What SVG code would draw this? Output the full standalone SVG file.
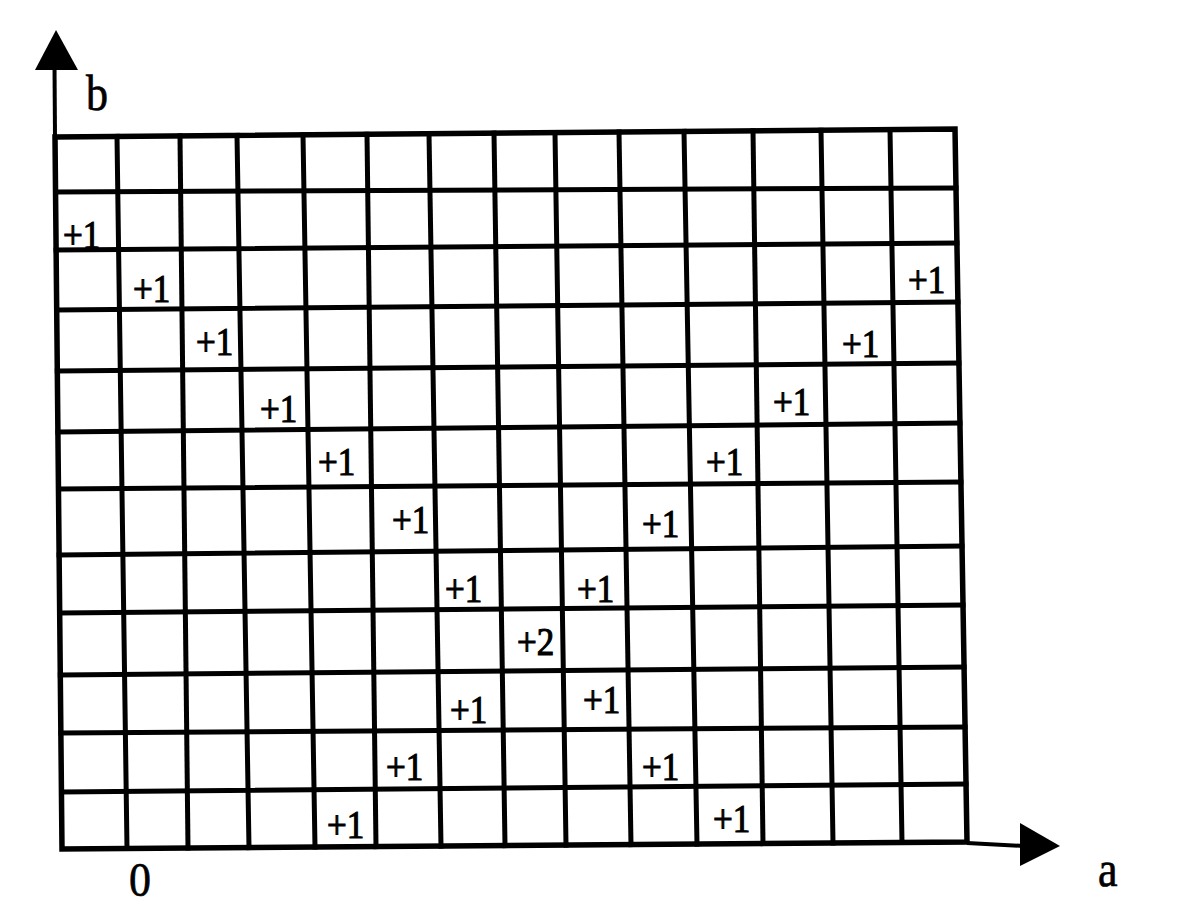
<svg xmlns="http://www.w3.org/2000/svg" width="1182" height="907" viewBox="0 0 1182 907">
<style>
.g{stroke:#000;stroke-width:5;stroke-linecap:square;fill:none}
.b{stroke:#000;stroke-width:5.5;stroke-linecap:square;fill:none}
.ax{stroke:#000;stroke-width:4;fill:none}
.ah{fill:#000}
.v{font-family:"Liberation Serif","Times New Roman",serif;font-size:35px;fill:#000;stroke:#000;stroke-width:1}
.lb{font-family:"Liberation Serif","Times New Roman",serif;fill:#000;stroke:#000;stroke-width:0.6}
</style>
<rect width="1182" height="907" fill="#fff"/>
<g id="grid">
<g id="rows">
<line class="g" x1="55.5" y1="192" x2="956" y2="188"/>
<line class="g" x1="56.1" y1="250" x2="956.9" y2="243"/>
<line class="g" x1="56.7" y1="310" x2="957.9" y2="302"/>
<line class="g" x1="57.3" y1="371" x2="958.9" y2="363"/>
<line class="g" x1="57.9" y1="432" x2="959.9" y2="423"/>
<line class="g" x1="58.5" y1="489" x2="960.9" y2="482"/>
<line class="g" x1="59.1" y1="555" x2="962" y2="546"/>
<line class="g" x1="59.7" y1="613" x2="963" y2="605"/>
<line class="g" x1="60.3" y1="675" x2="964" y2="667"/>
<line class="g" x1="60.9" y1="733" x2="965" y2="727"/>
<line class="g" x1="61.5" y1="792" x2="966" y2="784"/>
</g>
<g id="cols">
<line class="g" x1="117" y1="136.4" x2="127" y2="848.5"/>
<line class="g" x1="180" y1="135.9" x2="188" y2="848"/>
<line class="g" x1="237" y1="135.4" x2="249" y2="847.6"/>
<line class="g" x1="303" y1="134.8" x2="315" y2="847"/>
<line class="g" x1="367" y1="134.2" x2="376" y2="846.6"/>
<line class="g" x1="429" y1="133.7" x2="441" y2="846.1"/>
<line class="g" x1="494" y1="133.1" x2="505" y2="845.6"/>
<line class="g" x1="555" y1="132.6" x2="566" y2="845.1"/>
<line class="g" x1="619" y1="132" x2="631" y2="844.6"/>
<line class="g" x1="684" y1="131.4" x2="697" y2="844.1"/>
<line class="g" x1="753" y1="130.8" x2="763" y2="843.6"/>
<line class="g" x1="821" y1="130.2" x2="833" y2="843"/>
<line class="g" x1="890" y1="129.6" x2="902" y2="842.5"/>
</g>
<polygon id="border" class="b" points="55,137 955,129 967,842 62,849"/>
</g>
<g id="axes">
<line class="ax" x1="54.5" y1="66" x2="55" y2="137"/>
<polygon class="ah" points="56,30 35,70 78,70"/>
<line class="ax" x1="967" y1="843" x2="1024" y2="846"/>
<polygon class="ah" points="1060,846 1020,823 1020,866"/>
</g>
<g id="axis-labels">
<text class="lb" transform="translate(86,110) scale(1,1.15)" font-size="44">b</text>
<text class="lb" transform="translate(1098,886) scale(1,1.15)" font-size="44">a</text>
<text class="lb" transform="translate(129,896) scale(1,1.12)" font-size="44">0</text>
</g>
<g id="values">
<text class="v" transform="translate(63,248) scale(1,1.15)">+1</text>
<text class="v" transform="translate(133,302) scale(1,1.15)">+1</text>
<text class="v" transform="translate(196,355) scale(1,1.15)">+1</text>
<text class="v" transform="translate(260,422) scale(1,1.15)">+1</text>
<text class="v" transform="translate(318,475) scale(1,1.15)">+1</text>
<text class="v" transform="translate(392,533) scale(1,1.15)">+1</text>
<text class="v" transform="translate(445,602) scale(1,1.15)">+1</text>
<text class="v" transform="translate(517,655) scale(1,1.15)">+2</text>
<text class="v" transform="translate(450,723) scale(1,1.15)">+1</text>
<text class="v" transform="translate(386,780) scale(1,1.15)">+1</text>
<text class="v" transform="translate(327,838) scale(1,1.15)">+1</text>
<text class="v" transform="translate(577,602) scale(1,1.15)">+1</text>
<text class="v" transform="translate(642,537) scale(1,1.15)">+1</text>
<text class="v" transform="translate(706,475) scale(1,1.15)">+1</text>
<text class="v" transform="translate(773,415) scale(1,1.15)">+1</text>
<text class="v" transform="translate(842,357) scale(1,1.15)">+1</text>
<text class="v" transform="translate(908,293) scale(1,1.15)">+1</text>
<text class="v" transform="translate(583,713) scale(1,1.15)">+1</text>
<text class="v" transform="translate(642,780) scale(1,1.15)">+1</text>
<text class="v" transform="translate(713,832) scale(1,1.15)">+1</text>
</g>
</svg>
